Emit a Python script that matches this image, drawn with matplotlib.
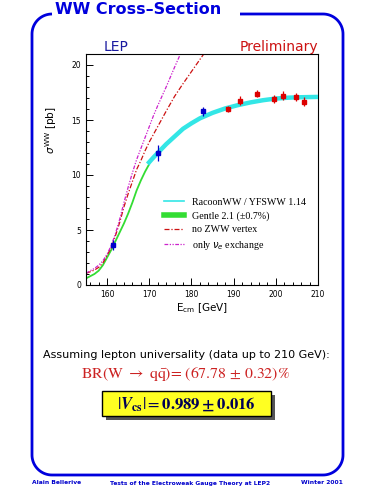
import numpy as np
import matplotlib
matplotlib.use("Agg")
import matplotlib.pyplot as plt
from matplotlib.patches import Rectangle
from matplotlib.lines import Line2D

# data
e_data = [161.3, 172.1, 182.8, 188.6, 191.6, 195.5, 199.5, 201.6, 204.8, 206.7]
sig_data = [3.65, 12.0, 15.8, 16.0, 16.75, 17.4, 16.9, 17.2, 17.1, 16.65]
err_data = [0.45, 0.7, 0.4, 0.25, 0.4, 0.35, 0.35, 0.4, 0.35, 0.4]
n_blue = 3

e_racoon = [169.6, 171, 172, 174, 176, 178, 180, 182, 185, 188, 191, 194, 197, 200, 203, 206, 210]
sig_racoon = [11.0, 11.6, 12.0, 12.8, 13.5, 14.2, 14.7, 15.15, 15.65, 16.05, 16.35, 16.6, 16.8, 16.95, 17.03, 17.07, 17.1]

e_gentle = [155, 156, 157, 158, 159, 160, 161, 162, 163, 164, 165, 166, 167, 168, 169, 170]
sig_gentle = [0.6, 0.8, 1.0, 1.3, 1.8, 2.5, 3.2, 4.0, 4.8, 5.6, 6.5, 7.5, 8.6, 9.5, 10.3, 11.0]

e_nozww = [155, 156, 157, 158, 159, 160, 161, 162, 163, 164, 165, 166, 167, 168, 169, 170, 172, 174, 176, 178, 180, 182, 183.2]
sig_nozww = [1.06, 1.2, 1.36, 1.6, 2.0, 2.7, 3.4, 4.5, 5.7, 7.1, 8.3, 9.4, 10.5, 11.3, 12.2, 13.0, 14.4, 15.8, 17.15, 18.3, 19.4, 20.5, 21.15]

e_nue = [155, 156, 157, 158, 159, 160, 161, 162, 163, 164, 165, 166, 167, 168, 169, 170, 171, 172, 174, 176, 177.5]
sig_nue = [1.06, 1.3, 1.5, 1.8, 2.2, 2.8, 3.6, 4.7, 6.0, 7.5, 8.9, 10.2, 11.4, 12.4, 13.4, 14.4, 15.4, 16.3, 18.0, 19.8, 21.1]

W, H = 375, 500
fig = plt.figure(figsize=(3.75, 5), dpi=100)


def arc(cx, cy, r, a0, a1):
    t = np.radians(np.linspace(a0, a1, 20))
    return list(cx + r * np.cos(t)), list(cy - r * np.sin(t))


# rounded blue frame (pixel coords, y down), open where the title sits
L, R, T, B, r = 32, 343, 14, 475, 20
xs, ys = [240, R - r], [T, T]
ax_, ay_ = arc(R - r, T + r, r, 90, 0); xs += ax_; ys += ay_
ax_, ay_ = arc(R - r, B - r, r, 0, -90); xs += ax_; ys += ay_
ax_, ay_ = arc(L + r, B - r, r, -90, -180); xs += ax_; ys += ay_
ax_, ay_ = arc(L + r, T + r, r, 180, 90); xs += ax_; ys += ay_
fig.lines.append(Line2D(np.array(xs) / W, 1 - np.array(ys) / H, transform=fig.transFigure,
                        color="#0000dd", lw=2, solid_capstyle="butt"))
fig.text(55 / W, 1 - 14 / H, "WW Cross–Section", color="#0000dd", fontsize=11.5,
         fontweight="bold", ha="left", va="baseline")

ax = fig.add_axes([86 / W, 1 - 285 / H, 232 / W, 231 / H])

ax.plot(e_racoon, sig_racoon, color="#33e6e6", lw=3.2, solid_capstyle="butt", zorder=3)
ax.plot(e_gentle, sig_gentle, color="#33dd33", lw=1.3, zorder=2)
ax.plot(e_nozww, sig_nozww, color="#cc1111", lw=0.9, ls=(0, (4, 1.5, 1, 1.5)), zorder=2)
ax.plot(e_nue, sig_nue, color="#cc22cc", lw=0.9, ls=(0, (3, 1.2, 1, 1.2, 1, 1.2)), zorder=2)

ax.errorbar(e_data[:n_blue], sig_data[:n_blue], yerr=err_data[:n_blue], fmt="s",
            color="#0000cc", ms=3.5, elinewidth=0.9, capsize=0, zorder=5)
ax.errorbar(e_data[n_blue:], sig_data[n_blue:], yerr=err_data[n_blue:], fmt="s",
            color="#dd0000", ms=3.5, elinewidth=0.9, capsize=0, zorder=5)

ax.set_xlim(155, 210)
ax.set_ylim(0, 21)
ax.set_xticks([160, 170, 180, 190, 200, 210])
ax.set_xticks(np.arange(156, 210, 2), minor=True)
ax.set_yticks([0, 5, 10, 15, 20])
ax.set_yticks(np.arange(0, 21, 1), minor=True)
ax.tick_params(which="both", direction="in", labelsize=5.5, top=False, right=False, width=0.7)
ax.tick_params(which="major", length=5)
ax.tick_params(which="minor", length=2.5)
for s in ax.spines.values():
    s.set_linewidth(0.8)

ax.set_xlabel(r"E$_{\rm cm}$ [GeV]", fontsize=7.5, labelpad=2)
ax.set_ylabel(r"$\sigma^{\rm WW}$ [pb]", fontsize=7.5)
ax.yaxis.set_label_coords(-0.115, 0.67)

handles = [Line2D([], [], color="#33e6e6", lw=1.2),
           Line2D([], [], color="#33dd33", lw=4),
           Line2D([], [], color="#cc1111", lw=0.9, ls=(0, (4, 1.5, 1, 1.5))),
           Line2D([], [], color="#cc22cc", lw=0.9, ls=(0, (3, 1.2, 1, 1.2, 1, 1.2)))]
labels = ["RacoonWW / YFSWW 1.14", "Gentle 2.1 (±0.7%)", "no ZWW vertex",
          r"only $\nu_e$ exchange"]
ax.legend(handles, labels, loc="upper left", bbox_to_anchor=(0.32, 0.395), frameon=False,
          prop={"family": "Liberation Serif", "size": 7.2}, handlelength=2.0,
          handletextpad=0.8, labelspacing=0.45, borderaxespad=0)

fig.text(104 / W, 1 - 51 / H, "LEP", color="#1a1aa0", fontsize=10, ha="left", va="baseline")
fig.text(318 / W, 1 - 51 / H, "Preliminary", color="#cc1111", fontsize=10, ha="right", va="baseline")

plt.rcParams["mathtext.fontset"] = "stix"
fig.text(186 / W, 1 - 355 / H, "Assuming lepton universality (data up to 210 GeV):",
         fontsize=8.0, ha="center", va="center")
fig.text(185 / W, 1 - 374 / H, r"BR(W $\rightarrow$ q$\bar{\rm q}$)= (67.78 $\pm$ 0.32)%",
         color="#cc2222", fontsize=11.3, family="STIXGeneral", ha="center", va="center")

fig.patches.append(Rectangle((106 / W, 1 - 420 / H), 169 / W, 25 / H, transform=fig.transFigure,
                             fc="#555555", ec="none", zorder=1))
fig.patches.append(Rectangle((102 / W, 1 - 416 / H), 169 / W, 25 / H, transform=fig.transFigure,
                             fc="#ffff22", ec="black", lw=1, zorder=2))
fig.text(186 / W, 1 - 404 / H, r"$|\mathbfit{V}_{\mathbf{cs}}| = \mathbf{0.989 \pm 0.016}$",
         color="#000055", fontsize=12, ha="center", va="center", zorder=3)

foot = dict(color="#0000cc", fontsize=4.3, fontweight="bold", va="center")
fig.text(32 / W, 1 - 483 / H, "Alain Bellerive", ha="left", **foot)
fig.text(190 / W, 1 - 483 / H, "Tests of the Electroweak Gauge Theory at LEP2", ha="center", **foot)
fig.text(343 / W, 1 - 483 / H, "Winter 2001", ha="right", **foot)

fig.savefig("out.png", dpi=100)
